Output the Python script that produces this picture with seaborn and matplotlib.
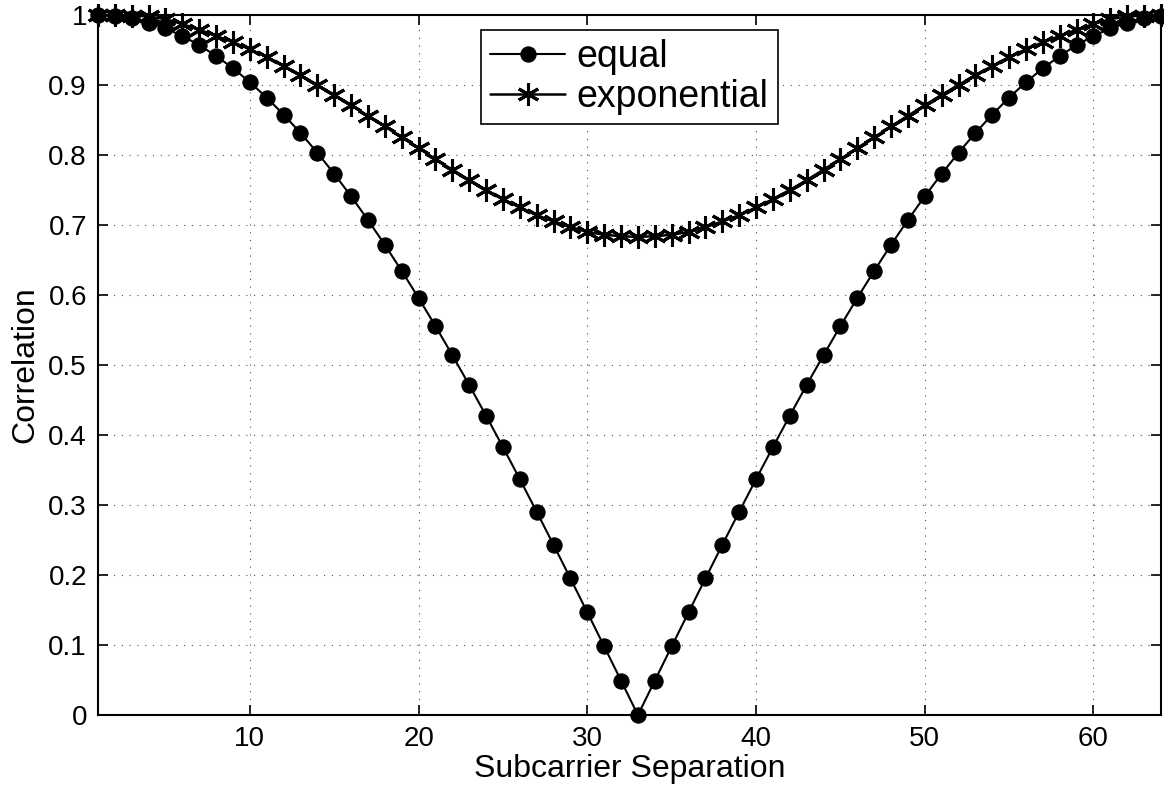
import numpy as np
import matplotlib
matplotlib.use("Agg")
import matplotlib.pyplot as plt
import seaborn as sns
from matplotlib.ticker import FormatStrFormatter

# data
subcarrier = list(range(1, 65))

equal = [1.000, 0.9988, 0.9952, 0.9892, 0.9808, 0.9700, 0.9569, 0.9415,
         0.9239, 0.9040, 0.8819, 0.8577, 0.8315, 0.8032, 0.7730, 0.7410,
         0.7071, 0.6716, 0.6344, 0.5957, 0.5556, 0.5141, 0.4714, 0.4276,
         0.3827, 0.3369, 0.2903, 0.2430, 0.1951, 0.1467, 0.0980, 0.0491,
         0.0000, 0.0491, 0.0980, 0.1467, 0.1951, 0.2430, 0.2903, 0.3369,
         0.3827, 0.4276, 0.4714, 0.5141, 0.5556, 0.5957, 0.6344, 0.6716,
         0.7071, 0.7410, 0.7730, 0.8032, 0.8315, 0.8577, 0.8819, 0.9040,
         0.9239, 0.9415, 0.9569, 0.9700, 0.9808, 0.9892, 0.9952, 0.9988]

exponential = [1.000, 1.000, 0.999, 0.998, 0.994, 0.987, 0.979, 0.970,
               0.961, 0.951, 0.940, 0.927, 0.914, 0.900, 0.886, 0.871,
               0.856, 0.841, 0.825, 0.810, 0.794, 0.779, 0.764, 0.750,
               0.737, 0.725, 0.714, 0.705, 0.697, 0.690, 0.686, 0.684,
               0.683, 0.684, 0.686, 0.690, 0.697, 0.705, 0.714, 0.725,
               0.737, 0.750, 0.764, 0.779, 0.794, 0.810, 0.825, 0.841,
               0.856, 0.871, 0.886, 0.900, 0.914, 0.927, 0.940, 0.951,
               0.961, 0.970, 0.979, 0.987, 0.994, 0.998, 0.999, 1.000]

x_ticks = [10, 20, 30, 40, 50, 60]
y_ticks = [0, 0.1, 0.2, 0.3, 0.4, 0.5, 0.6, 0.7, 0.8, 0.9, 1]

sns.set_style("ticks")
plt.rcParams['font.family'] = ['Liberation Sans', 'DejaVu Sans']
plt.rcParams['text.color'] = 'black'
plt.rcParams['axes.labelcolor'] = 'black'
plt.rcParams['xtick.color'] = 'black'
plt.rcParams['ytick.color'] = 'black'

fig = plt.figure(figsize=(11.64, 7.88), dpi=100)
ax = fig.add_axes([0.0842, 0.0926, 0.9132, 0.8884])

sns.lineplot(x=subcarrier, y=equal, ax=ax, color="black", linewidth=1.5,
             marker="o", markersize=11, markeredgecolor="black",
             markerfacecolor="black", clip_on=False, zorder=4, label="equal")
sns.lineplot(x=subcarrier, y=exponential, ax=ax, color="black", linewidth=1.8,
             marker=(6, 2, 0), markersize=16, markeredgewidth=2.2,
             markeredgecolor="black", clip_on=False, zorder=3,
             label="exponential")

ax.set_xlim(1, 64)
ax.set_ylim(0, 1)
ax.set_xticks(x_ticks)
ax.set_yticks(y_ticks)
ax.yaxis.set_major_formatter(FormatStrFormatter("%g"))
ax.tick_params(direction="in", length=7, width=1.2, labelsize=20,
               top=True, right=True, pad=8)
ax.grid(True, color="black", linestyle=(0, (1, 6)), linewidth=0.8, alpha=0.7)
for s in ax.spines.values():
    s.set_visible(True)
    s.set_linewidth(1.5)
    s.set_color("black")

ax.set_xlabel("Subcarrier Separation", fontsize=23, labelpad=1)
ax.set_ylabel("Correlation", fontsize=23, labelpad=6)

leg = ax.legend(loc="upper center", fontsize=27, frameon=True, fancybox=False,
                edgecolor="black", framealpha=1, handlelength=2.0,
                borderpad=0.25, labelspacing=0.1, handletextpad=0.3,
                borderaxespad=0.4)
leg.get_frame().set_linewidth(1.2)

plt.savefig("out.png", dpi=100)
